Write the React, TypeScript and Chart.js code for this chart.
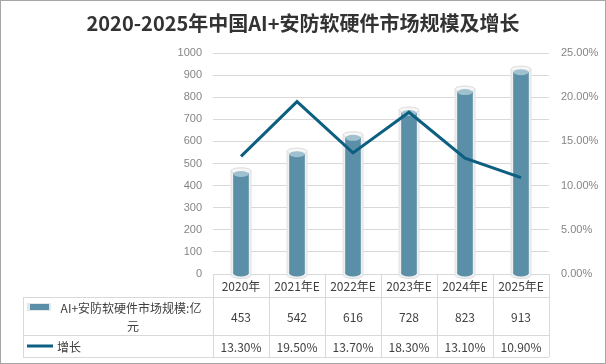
import React, { useEffect, useRef } from "react";
import { Chart, registerables } from "chart.js";

Chart.register(...registerables);

const title = "2020-2025年中国AI+安防软硬件市场规模及增长";
const categories = ["2020年", "2021年E", "2022年E", "2023年E", "2024年E", "2025年E"];
const marketSize = [453, 542, 616, 728, 823, 913];
const growth = [13.3, 19.5, 13.7, 18.3, 13.1, 10.9];
const sizeLabelLines = ["AI+安防软硬件市场规模:亿", "元"];
const growthLabel = "增长";

const BAR_COLOR = "#5b8fa8";
const BAR_TOP = "#9fc0cf";
const LINE_COLOR = "#0c5f80";
const GRID = "#d9d9d9";
const TEXT = "#404040";
const FONT = '"Noto Sans CJK SC", "Liberation Sans", sans-serif';

const cylinderPlugin = {
  id: "cylinders",
  beforeDatasetsDraw(chart: any) {
    const meta = chart.getDatasetMeta(0);
    const ctx = chart.ctx;
    ctx.save();
    meta.data.forEach((bar: any) => {
      const x = bar.x;
      const top = bar.y - 3;
      const base = bar.base + 2;
      const hw = 10;
      ctx.beginPath();
      ctx.moveTo(x - hw, top);
      ctx.lineTo(x - hw, base);
      ctx.ellipse(x, base, hw, 3, 0, Math.PI, 0, true);
      ctx.lineTo(x + hw, top);
      ctx.ellipse(x, top, hw, 3, 0, 0, Math.PI, true);
      ctx.closePath();
      ctx.fillStyle = "#efefef";
      ctx.fill();
      ctx.strokeStyle = "#e0e0e0";
      ctx.lineWidth = 1;
      ctx.stroke();
      ctx.beginPath();
      ctx.ellipse(x, top, hw, 3, 0, 0, Math.PI * 2);
      ctx.fillStyle = "#f6f6f6";
      ctx.fill();
      ctx.stroke();
    });
    ctx.restore();
  },
  afterDatasetDraw(chart: any, args: any) {
    if (args.index !== 0) return;
    const meta = chart.getDatasetMeta(0);
    const ctx = chart.ctx;
    ctx.save();
    meta.data.forEach((bar: any) => {
      const x = bar.x;
      const hw = bar.width / 2;
      ctx.beginPath();
      ctx.ellipse(x, bar.base, hw, 3, 0, 0, Math.PI * 2);
      ctx.fillStyle = BAR_COLOR;
      ctx.fill();
      ctx.beginPath();
      ctx.ellipse(x, bar.y, hw, 3, 0, 0, Math.PI * 2);
      ctx.fillStyle = BAR_TOP;
      ctx.fill();
    });
    ctx.restore();
  },
};

const tablePlugin = {
  id: "dataTable",
  afterDraw(chart: any) {
    const ctx = chart.ctx;
    const area = chart.chartArea;
    const xs = chart.scales.x;
    const colW = (area.right - area.left) / categories.length;
    const tableLeft = 23;
    const y0 = area.bottom;
    const y1 = y0 + 23;
    const y2 = y1 + 38;
    const y3 = y2 + 22;
    ctx.save();
    // title
    ctx.fillStyle = "#333333";
    ctx.font = `bold 20px ${FONT}`;
    ctx.textAlign = "center";
    ctx.textBaseline = "middle";
    ctx.fillText(title, 303, 23);

    // grid lines of table
    ctx.strokeStyle = GRID;
    ctx.lineWidth = 1;
    ctx.beginPath();
    [y1, y2, y3].forEach((y) => {
      ctx.moveTo(tableLeft, Math.round(y) + 0.5);
      ctx.lineTo(area.right, Math.round(y) + 0.5);
    });
    ctx.moveTo(tableLeft + 0.5, y1);
    ctx.lineTo(tableLeft + 0.5, y3);
    for (let i = 0; i <= categories.length; i++) {
      const x = Math.round(area.left + colW * i) + 0.5;
      ctx.moveTo(x, y0);
      ctx.lineTo(x, y3);
    }
    ctx.stroke();

    // texts
    ctx.fillStyle = TEXT;
    ctx.font = `12px ${FONT}`;
    categories.forEach((c, i) => {
      const x = xs.getPixelForValue(i);
      ctx.fillText(c, x, (y0 + y1) / 2 + 1);
      ctx.fillText(String(marketSize[i]), x, (y1 + y2) / 2 + 1);
      ctx.fillText(growth[i].toFixed(2) + "%", x, (y2 + y3) / 2 + 1);
    });

    // legend keys
    const sy = (y1 + y2) / 2 - 9;
    ctx.fillStyle = "#e6e6e6";
    ctx.fillRect(27, sy - 4, 24, 8);
    ctx.fillStyle = BAR_COLOR;
    ctx.fillRect(30, sy - 3, 19, 6);
    ctx.fillStyle = TEXT;
    ctx.fillText(sizeLabelLines[0], 131, sy + 1);
    ctx.fillText(sizeLabelLines[1], 133, sy + 19);

    const ly = (y2 + y3) / 2;
    ctx.strokeStyle = LINE_COLOR;
    ctx.lineWidth = 3;
    ctx.beginPath();
    ctx.moveTo(27, ly);
    ctx.lineTo(53, ly);
    ctx.stroke();
    ctx.textAlign = "left";
    ctx.fillText(growthLabel, 57, ly + 1);

    // outer border
    ctx.strokeStyle = "#a6a6a6";
    ctx.lineWidth = 1;
    ctx.strokeRect(0.5, 0.5, chart.width - 1, chart.height - 1);
    ctx.restore();
  },
};

export default function App() {
  const ref = useRef<HTMLCanvasElement>(null);
  useEffect(() => {
    document.body.style.margin = "0";
    const chart = new Chart(ref.current!, {
      type: "bar",
      data: {
        labels: categories,
        datasets: [
          {
            type: "bar",
            label: sizeLabelLines.join(""),
            data: marketSize,
            backgroundColor: BAR_COLOR,
            barThickness: 15,
            yAxisID: "y",
            order: 1,
          },
          {
            type: "line",
            label: growthLabel,
            data: growth,
            borderColor: LINE_COLOR,
            borderWidth: 3,
            pointRadius: 0,
            tension: 0,
            yAxisID: "y1",
            order: 0,
          },
        ] as any,
      },
      options: {
        animation: false,
        responsive: false,
        devicePixelRatio: 1,
        layout: { padding: { top: 53, bottom: 90, left: 0, right: 0 } },
        plugins: {
          legend: { display: false },
          title: { display: false },
          tooltip: { enabled: false },
        },
        scales: {
          x: { display: false, offset: true, grid: { display: false } },
          y: {
            position: "left",
            min: 0,
            max: 1000,
            ticks: {
              stepSize: 100,
              color: "#858585",
              padding: 11,
              font: { size: 11, family: '"Liberation Sans", Arial, sans-serif' },
              callback: (v: any) => String(v),
            },
            grid: { color: GRID, drawTicks: false },
            border: { display: false },
            afterFit: (s: any) => {
              s.width = 213;
            },
          },
          y1: {
            position: "right",
            min: 0,
            max: 25,
            ticks: {
              stepSize: 5,
              color: "#858585",
              padding: 12,
              font: { size: 11, family: '"Liberation Sans", Arial, sans-serif' },
              callback: (v: any) => Number(v).toFixed(2) + "%",
            },
            grid: { display: false, drawTicks: false },
            border: { display: false },
            afterFit: (s: any) => {
              s.width = 57;
            },
          },
        },
      } as any,
      plugins: [cylinderPlugin, tablePlugin],
    });
    return () => chart.destroy();
  }, []);
  return (
    <div style={{ width: 606, height: 364, background: "#fff" }}>
      <canvas ref={ref} width={606} height={364} style={{ display: "block" }} />
    </div>
  );
}
